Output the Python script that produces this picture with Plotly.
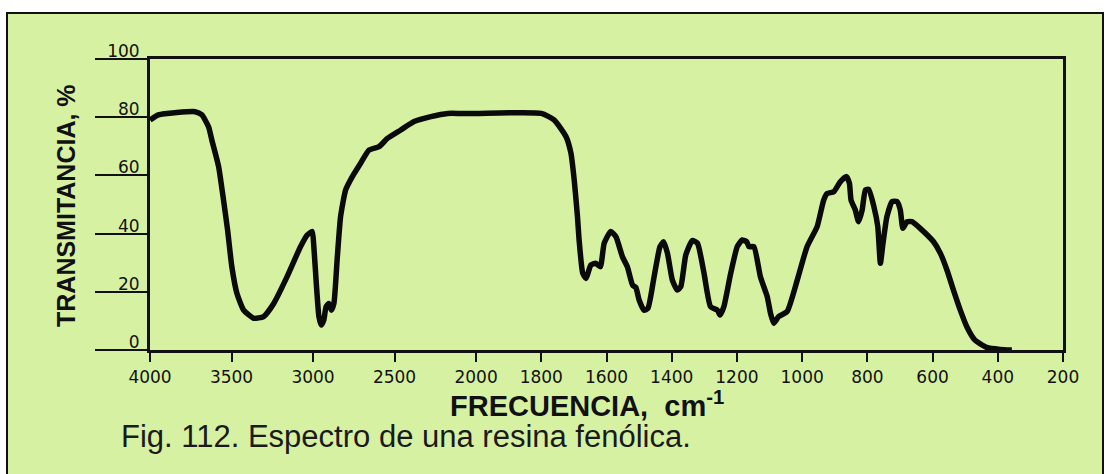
import plotly.graph_objects as go

# ---- data (wavenumber cm-1, transmittance %) ----
wavenumber = [4000, 3949, 3723, 3682, 3641, 3620, 3579, 3549, 3524, 3498, 3467, 3426,
              3364, 3303, 3241, 3159, 3077, 3036, 3005, 2995, 2980, 2964, 2950, 2934,
              2920, 2903, 2888, 2872, 2851, 2831, 2800, 2759, 2708, 2657, 2595, 2544,
              2462, 2380, 2277, 2174, 2092, 2000, 1800, 1760, 1724, 1709, 1699, 1689,
              1684, 1673, 1663, 1648, 1633, 1619, 1607, 1587, 1571, 1551, 1536, 1520,
              1510, 1500, 1485, 1473, 1454, 1436, 1425, 1413, 1398, 1383, 1372, 1357,
              1337, 1321, 1301, 1281, 1260, 1252, 1240, 1219, 1199, 1184, 1170, 1163,
              1148, 1128, 1107, 1097, 1087, 1072, 1046, 1015, 985, 954, 934, 923, 903,
              883, 864, 855, 850, 837, 827, 816, 806, 796, 780, 768, 760, 752, 740, 724,
              709, 699, 691, 678, 663, 638, 597, 576, 556, 536, 515, 495, 470, 434, 393, 357]
transmittance = [79.0, 80.8, 81.9, 80.8, 76.7, 72.0, 63.0, 51.5, 41.2, 28.6, 19.5, 13.7,
                 10.9, 11.5, 16.0, 25.2, 35.5, 39.5, 40.7, 35.5, 22.9, 11.5, 8.6, 10.3,
                 14.9, 16.0, 13.7, 16.0, 32.0, 45.8, 55.0, 59.6, 64.2, 68.7, 69.9, 72.7,
                 75.6, 78.5, 80.2, 81.3, 81.3, 81.3, 81.3, 79.0, 73.3, 67.6, 58.4, 45.8,
                 37.8, 26.4, 24.6, 29.2, 29.8, 28.6, 36.7, 40.7, 38.9, 32.0, 28.6, 22.3,
                 21.5, 17.2, 13.7, 14.3, 25.2, 35.5, 37.2, 33.2, 24.0, 20.6, 21.8, 32.6,
                 37.6, 36.7, 26.4, 14.9, 13.7, 12.0, 14.9, 26.4, 35.5, 37.8, 37.2, 35.5,
                 35.5, 25.2, 18.3, 12.6, 9.2, 11.5, 13.2, 24.0, 35.5, 42.4, 51.5, 53.8, 54.4,
                 57.8, 59.6, 57.3, 51.5, 48.1, 44.1, 48.1, 55.0, 55.2, 49.3, 42.4, 29.8, 36.7, 45.8, 51.0,
                 51.0, 48.1, 41.8, 44.1, 44.1, 41.8, 37.2, 33.2, 27.5, 20.6, 13.7, 8.0, 3.4, 0.9, 0.2, 0.0]

x_ticks = [4000, 3500, 3000, 2500, 2000, 1800, 1600, 1400, 1200, 1000, 800, 600, 400, 200]
y_ticks = [0, 20, 40, 60, 80, 100]

y_title = "TRANSMITANCIA, %"
x_title = "FRECUENCIA,&nbsp; cm<sup>-1</sup>"
caption = "Fig. 112. Espectro de una resina fenólica."


# IR chart paper: 4000-2000 cm-1 drawn at half the scale of 2000-200 cm-1
def chart_pos(w):
    return (4000 - w) if w >= 2000 else 2000 + 2 * (2000 - w)


u = [chart_pos(w) for w in wavenumber]
tick_u = [chart_pos(w) for w in x_ticks]

GREEN = "#d7f1a2"

fig = go.Figure()
fig.add_trace(go.Scatter(
    x=u, y=transmittance, mode="lines",
    line=dict(color="#0a0a0a", width=5.5, shape="spline", smoothing=0.5),
    hoverinfo="skip", showlegend=False,
))

# page geometry (pixels)
L, R, T, B = 150, 47, 59, 124
W, H = 1110, 474
pw, ph = W - L - R, H - T - B


def px(xp):
    return (xp - L) / pw


def py(yp):
    return (H - B - yp) / ph


fig.update_layout(
    width=W, height=H,
    margin=dict(l=L, r=R, t=T, b=B, pad=0),
    paper_bgcolor="white",
    plot_bgcolor=GREEN,
    showlegend=False,
    shapes=[dict(type="rect", xref="paper", yref="paper",
                 x0=px(7), x1=px(1103), y0=py(490), y1=py(13),
                 fillcolor=GREEN, line=dict(color="#111", width=2), layer="below")],
)

fig.update_xaxes(
    range=[0, 5600], tickmode="array", tickvals=tick_u, ticktext=[str(t) for t in x_ticks],
    showgrid=False, zeroline=False, showline=True, linecolor="#111", linewidth=3, mirror=True,
    ticks="outside", ticklen=9, tickwidth=2, tickcolor="#111",
    tickfont=dict(family="DejaVu Sans", size=17, color="#111"),
    ticklabelstandoff=1,
)
fig.update_yaxes(
    range=[0, 100], tickmode="array", tickvals=y_ticks, ticktext=[str(t) for t in y_ticks],
    showgrid=False, zeroline=False, showline=True, linecolor="#111", linewidth=3, mirror=True,
    ticks="outside", ticklen=52, tickwidth=1.6, tickcolor="#111",
    tickfont=dict(family="DejaVu Sans", size=17, color="#111"),
    ticklabelstandoff=-48, ticklabelshift=-8,
)

fig.add_annotation(text="<b>" + y_title + "</b>", xref="paper", yref="paper",
                   x=px(66), y=py(206), textangle=-90, showarrow=False,
                   font=dict(family="Liberation Sans", size=25, color="#111"),
                   xanchor="center", yanchor="middle")
fig.add_annotation(text="<b>" + x_title + "</b>", xref="paper", yref="paper",
                   x=px(587), y=py(404), showarrow=False,
                   font=dict(family="Liberation Sans", size=29, color="#111"),
                   xanchor="center", yanchor="middle")
fig.add_annotation(text=caption, xref="paper", yref="paper",
                   x=px(119), y=py(436), showarrow=False,
                   font=dict(family="Liberation Sans", size=31, color="#1a1a1a"),
                   xanchor="left", yanchor="middle")

fig.write_html("out.html")
